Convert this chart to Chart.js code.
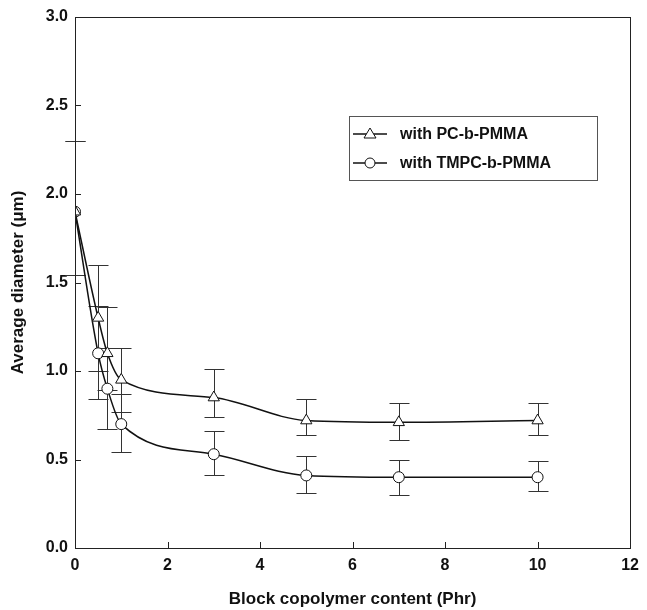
<!DOCTYPE html>
<html lang="en">
<head>
<meta charset="UTF-8">
<title>Average diameter vs block copolymer content</title>
<script src="https://cdn.jsdelivr.net/npm/chart.js"></script>
<style>
  html, body { margin: 0; padding: 0; background: #fff; }
  #wrap { width: 647px; height: 610px; }
</style>
</head>
<body>
<div id="wrap"><canvas id="chart" width="647" height="610"></canvas></div>
<script>
// block copolymer content (phr)
const contents = [0, 0.5, 0.7, 1, 3, 5, 7, 10];

// with PC-b-PMMA (triangles)
const pcMean = [1.90, 1.30, 1.10, 0.95, 0.85, 0.72, 0.71, 0.72];
const pcHigh = [2.30, 1.60, 1.36, 1.13, 1.01, 0.84, 0.82, 0.82];
const pcLow  = [1.54, 1.00, 0.89, 0.77, 0.74, 0.64, 0.61, 0.64];

// with TMPC-b-PMMA (circles)
const tmpcMean = [1.90, 1.10, 0.90, 0.70, 0.53, 0.41, 0.40, 0.40];
const tmpcHigh = [2.30, 1.37, 1.13, 0.87, 0.66, 0.52, 0.50, 0.49];
const tmpcLow  = [1.54, 0.84, 0.67, 0.54, 0.41, 0.31, 0.30, 0.32];

const seriesLabels = ['with PC-b-PMMA', 'with TMPC-b-PMMA'];
const xTicks = [0, 2, 4, 6, 8, 10, 12];
const yTicks = [0, 0.5, 1.0, 1.5, 2.0, 2.5, 3.0];

const FONT = '"Liberation Sans", Arial, sans-serif';
const toPoints = (ys) => contents.map((x, i) => ({ x: x, y: ys[i] }));

// error bars, drawn under the markers
const errorBars = {
  id: 'errorBars',
  beforeDatasetsDraw(chart) {
    const ctx = chart.ctx;
    const xs = chart.scales.x, ys = chart.scales.y;
    const sets = [[pcHigh, pcLow], [tmpcHigh, tmpcLow]];
    ctx.save();
    ctx.strokeStyle = '#333';
    ctx.lineWidth = 1;
    sets.forEach(([hi, lo]) => {
      contents.forEach((c, i) => {
        const px = Math.round(xs.getPixelForValue(c)) + 0.5;
        const top = Math.round(ys.getPixelForValue(hi[i])) + 0.5;
        const bot = Math.round(ys.getPixelForValue(lo[i])) + 0.5;
        ctx.beginPath();
        ctx.moveTo(px, top); ctx.lineTo(px, bot);
        ctx.moveTo(px - 10, top); ctx.lineTo(px + 10, top);
        ctx.moveTo(px - 10, bot); ctx.lineTo(px + 10, bot);
        ctx.stroke();
      });
    });
    ctx.restore();
  }
};

// frame, inward ticks and the boxed legend
const frameAndLegend = {
  id: 'frameAndLegend',
  afterDraw(chart) {
    const ctx = chart.ctx;
    const a = chart.chartArea;
    const xs = chart.scales.x, ys = chart.scales.y;
    ctx.save();
    ctx.strokeStyle = '#222';
    ctx.lineWidth = 1;
    ctx.strokeRect(Math.round(a.left) + 0.5, Math.round(a.top) + 0.5,
                   Math.round(a.right - a.left), Math.round(a.bottom - a.top));
    ctx.beginPath();
    xTicks.forEach(v => {
      const px = Math.round(xs.getPixelForValue(v)) + 0.5;
      ctx.moveTo(px, a.bottom); ctx.lineTo(px, a.bottom - 6);
    });
    yTicks.forEach(v => {
      const py = Math.round(ys.getPixelForValue(v)) + 0.5;
      ctx.moveTo(a.left, py); ctx.lineTo(a.left + 6, py);
    });
    ctx.stroke();

    // legend box
    const bx = 349, by = 116, bw = 248, bh = 64;
    ctx.strokeStyle = '#555';
    ctx.strokeRect(bx + 0.5, by + 0.5, bw, bh);
    ctx.font = 'bold 16px ' + FONT;
    ctx.textBaseline = 'middle';
    chart.data.datasets.forEach((ds, i) => {
      const ry = by + 18 + i * 29;
      ctx.strokeStyle = '#111';
      ctx.lineWidth = 1.3;
      ctx.beginPath();
      ctx.moveTo(bx + 4, ry); ctx.lineTo(bx + 38, ry);
      ctx.stroke();
      ctx.fillStyle = '#fff';
      ctx.lineWidth = 1;
      ctx.beginPath();
      if (ds.pointStyle === 'triangle') {
        ctx.moveTo(bx + 21, ry - 6);
        ctx.lineTo(bx + 27, ry + 4);
        ctx.lineTo(bx + 15, ry + 4);
        ctx.closePath();
      } else {
        ctx.arc(bx + 21, ry, 5, 0, Math.PI * 2);
      }
      ctx.fill(); ctx.stroke();
      ctx.fillStyle = '#111';
      ctx.fillText(ds.label, bx + 51, ry + 1);
    });
    ctx.restore();
  }
};

new Chart(document.getElementById('chart'), {
  type: 'line',
  data: {
    datasets: [
      {
        label: seriesLabels[0],
        data: toPoints(pcMean),
        borderColor: '#111',
        borderWidth: 1.5,
        pointStyle: 'triangle',
        pointRadius: 6.5,
        pointBackgroundColor: '#fff',
        pointBorderColor: '#111',
        pointBorderWidth: 1,
        cubicInterpolationMode: 'monotone',
        fill: false
      },
      {
        label: seriesLabels[1],
        data: toPoints(tmpcMean),
        borderColor: '#111',
        borderWidth: 1.5,
        pointStyle: 'circle',
        pointRadius: 5.5,
        pointBackgroundColor: '#fff',
        pointBorderColor: '#111',
        pointBorderWidth: 1,
        cubicInterpolationMode: 'monotone',
        fill: false
      }
    ]
  },
  options: {
    responsive: false,
    animation: false,
    layout: { padding: { top: 17, right: 13, left: 0, bottom: 0 } },
    plugins: {
      legend: { display: false },
      tooltip: { enabled: false }
    },
    scales: {
      x: {
        type: 'linear',
        min: 0,
        max: 12,
        afterBuildTicks: (s) => { s.ticks = xTicks.map(v => ({ value: v })); },
        afterFit: (s) => { s.height = 62; },
        grid: { display: false, drawTicks: false },
        border: { display: false },
        ticks: {
          color: '#111',
          padding: 8,
          maxRotation: 0,
          font: { family: FONT, size: 16, weight: 'bold' }
        },
        title: {
          display: true,
          text: 'Block copolymer content (Phr)',
          color: '#111',
          padding: { top: 0, bottom: 0 },
          font: { family: FONT, size: 17, weight: 'bold' }
        }
      },
      y: {
        min: 0,
        max: 3,
        afterBuildTicks: (s) => { s.ticks = yTicks.map(v => ({ value: v })); },
        afterFit: (s) => { s.width = 75; },
        grid: { display: false, drawTicks: false },
        border: { display: false },
        ticks: {
          color: '#111',
          padding: 7,
          callback: (v) => v.toFixed(1),
          font: { family: FONT, size: 16, weight: 'bold' }
        },
        title: {
          display: true,
          text: 'Average diameter (\u03bcm)',
          color: '#111',
          padding: { top: 8, bottom: 0 },
          font: { family: FONT, size: 17, weight: 'bold' }
        }
      }
    }
  },
  plugins: [errorBars, frameAndLegend]
});
</script>
</body>
</html>
